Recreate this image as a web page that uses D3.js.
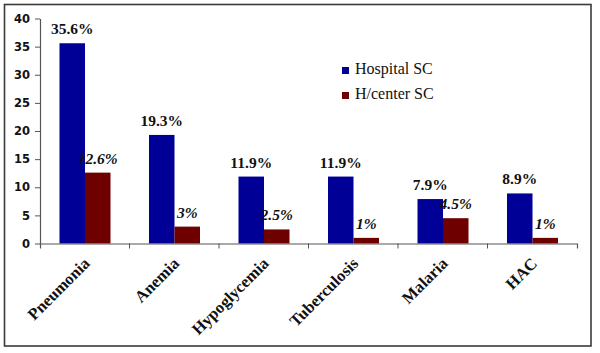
<!DOCTYPE html>
<html>
<head>
<meta charset="utf-8">
<script src="https://cdn.jsdelivr.net/npm/d3@7"></script>
<style>
  body { margin: 0; background: #fff; }
  svg { display: block; }
  .serif { font-family: "Liberation Serif", "Times New Roman", Times, serif; }
</style>
</head>
<body>
<div id="chart-area"></div>
<script>
const categories = ["Pneumonia", "Anemia", "Hypoglycemia", "Tuberculosis", "Malaria", "HAC"];
const seriesNames = ["Hospital SC", "H/center SC"];
const hospital = [35.6, 19.3, 11.9, 11.9, 7.9, 8.9];
const hcenter = [12.6, 3, 2.5, 1, 4.5, 1];
const hospitalLabels = ["35.6%", "19.3%", "11.9%", "11.9%", "7.9%", "8.9%"];
const hcenterLabels = ["12.6%", "3%", "2.5%", "1%", "4.5%", "1%"];
const yTicks = [0, 5, 10, 15, 20, 25, 30, 35, 40];

const colors = ["#000096", "#6e0000"];
const width = 600, height = 353;
const plot = {left: 40, right: 577, top: 18.5, bottom: 243.5};

const svg = d3.select("#chart-area").append("svg")
    .attr("width", width)
    .attr("height", height);

svg.append("rect")
    .attr("x", 4.5).attr("y", 4.5)
    .attr("width", 586.5).attr("height", 341.5)
    .attr("fill", "#fff")
    .attr("stroke", "#3a3a3a")
    .attr("stroke-width", 1.6);

const x0 = d3.scaleBand().domain(categories).range([plot.left, plot.right]);
const x1 = d3.scaleBand().domain([0, 1]).range([19.5, 70.5]);
const y = d3.scaleLinear().domain([0, 40]).range([plot.bottom, plot.top]);

const data = categories.map((c, i) => ({
  cat: c,
  vals: [
    {s: 0, v: hospital[i], label: hospitalLabels[i]},
    {s: 1, v: hcenter[i], label: hcenterLabels[i]}
  ]
}));

// bars
const groups = svg.selectAll("g.cat").data(data).enter().append("g")
    .attr("class", "cat")
    .attr("transform", (d) => "translate(" + x0(d.cat) + ",0)");

groups.selectAll("rect").data((d) => d.vals).enter().append("rect")
    .attr("x", (d) => x1(d.s))
    .attr("y", (d) => y(d.v))
    .attr("width", x1.bandwidth())
    .attr("height", (d) => y(0) - y(d.v))
    .attr("fill", (d) => colors[d.s]);

// y axis
const yAxis = svg.append("g")
    .attr("transform", "translate(" + plot.left + ",0)")
    .call(d3.axisLeft(y).tickValues(yTicks).tickSize(5).tickSizeOuter(0).tickPadding(5));
yAxis.select(".domain").attr("stroke", "#555").attr("stroke-width", 1.2);
yAxis.selectAll(".tick line").attr("stroke", "#555");
yAxis.selectAll(".tick text")
    .attr("font-family", "DejaVu Sans")
    .attr("font-weight", "bold")
    .attr("font-size", 11.5)
    .attr("fill", "#111");

// x axis
const xAxis = svg.append("g")
    .attr("transform", "translate(0," + plot.bottom + ")")
    .call(d3.axisBottom(x0).tickSize(0).tickSizeOuter(5).tickFormat(""));
xAxis.select(".domain").attr("stroke", "#555").attr("stroke-width", 1.2);

xAxis.selectAll("line.bound").data(categories.slice(1)).enter().append("line")
    .attr("class", "bound")
    .attr("x1", (d) => x0(d)).attr("x2", (d) => x0(d))
    .attr("y1", 0).attr("y2", 5)
    .attr("stroke", "#555");

svg.selectAll("text.catlabel").data(categories).enter().append("text")
    .attr("class", "catlabel serif")
    .attr("transform", (d) => "translate(" + (x0(d) + x0.bandwidth() / 2 + 6) + "," + (plot.bottom + 21) + ") rotate(-45)")
    .attr("text-anchor", "end")
    .attr("font-weight", "bold")
    .attr("font-size", 16.5)
    .attr("fill", "#111")
    .text((d) => d);

// value labels
groups.selectAll("text.val").data((d) => d.vals).enter().append("text")
    .attr("class", "val serif")
    .attr("x", (d) => x1(d.s) + x1.bandwidth() / 2)
    .attr("y", (d) => y(d.v) - 9)
    .attr("text-anchor", "middle")
    .attr("font-weight", "bold")
    .attr("font-style", (d) => d.s === 1 ? "italic" : "normal")
    .attr("font-size", 15.5)
    .attr("fill", "#111")
    .text((d) => d.label);

// legend
const legend = svg.selectAll("g.legend").data(seriesNames).enter().append("g")
    .attr("class", "legend")
    .attr("transform", (d, i) => "translate(342," + (67 + i * 25) + ")");
legend.append("rect")
    .attr("width", 7).attr("height", 7)
    .attr("fill", (d, i) => colors[i]);
legend.append("text")
    .attr("class", "serif")
    .attr("x", 13).attr("y", 6.8)
    .attr("font-size", 16)
    .attr("fill", "#111")
    .text((d) => d);
</script>
</body>
</html>
